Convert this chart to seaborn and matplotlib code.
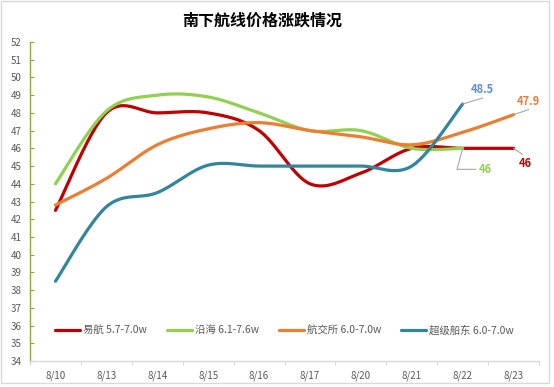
import numpy as np
import pandas as pd
import matplotlib
matplotlib.use("Agg")
import matplotlib.pyplot as plt
from matplotlib.patches import Rectangle
import seaborn as sns

dates = ["8/10", "8/13", "8/14", "8/15", "8/16", "8/17", "8/20", "8/21", "8/22", "8/23"]
yihang = [42.5, 48.0, 48.0, 48.0, 47.0, 44.0, 44.6, 46.0, 46.0, 46.0]
yanhai = [44.0, 48.1, 49.0, 48.9, 48.0, 47.0, 47.0, 46.0, 46.0]
hangjiaosuo = [42.8, 44.3, 46.2, 47.1, 47.45, 47.0, 46.65, 46.2, 46.9, 47.9]
chaoji = [38.5, 42.7, 43.5, 45.05, 45.0, 45.0, 45.0, 45.0, 48.5]

names = ["易航 5.7-7.0w", "沿海 6.1-7.6w", "航交所 6.0-7.0w", "超级船东 6.0-7.0w"]
colors = ["#C00000", "#92D050", "#ED7D31", "#31859C"]


def smooth(vals, n=30):
    # excel-style smoothed line: bezier segments, control points from neighbours
    p = np.array([[i, v] for i, v in enumerate(vals)], dtype=float)
    ext = np.vstack([p[0], p, p[-1]])
    out = []
    for i in range(len(p) - 1):
        p0, p1, p2, p3 = ext[i], ext[i + 1], ext[i + 2], ext[i + 3]
        c1 = p1 + (p2 - p0) / 6
        c2 = p2 - (p3 - p1) / 6
        t = np.linspace(0, 1, n)[:, None]
        seg = (1 - t) ** 3 * p1 + 3 * (1 - t) ** 2 * t * c1 + 3 * (1 - t) * t ** 2 * c2 + t ** 3 * p2
        out.append(seg if i == 0 else seg[1:])
    out = np.vstack(out)
    return pd.DataFrame({"x": out[:, 0], "y": out[:, 1]})


sns.set_theme(style="white")
plt.rcParams["font.family"] = ["Noto Sans CJK SC", "DejaVu Sans"]

fig = plt.figure(figsize=(5.54, 3.87), dpi=100)
ax = fig.add_axes([30 / 554, 1 - 361 / 387, 509 / 554, 319 / 387])

for vals, name, c in zip([yihang, yanhai, hangjiaosuo, chaoji], names, colors):
    df = smooth(vals)
    sns.lineplot(data=df, x="x", y="y", sort=False, estimator=None, color=c,
                 linewidth=2.3, label=name, ax=ax)

ax.set_xlim(-0.5, 9.5)
ax.set_ylim(34, 52)
ax.set_yticks(range(34, 53))
ax.set_xticks(range(len(dates)))
ax.set_xticklabels(dates)
ax.set_xlabel("")
ax.set_ylabel("")

ax.spines["top"].set_visible(False)
ax.spines["right"].set_visible(False)
ax.spines["left"].set_color("#8AAA3E")
ax.spines["left"].set_linewidth(1.0)
ax.spines["bottom"].set_color("#D9D9D9")
ax.spines["bottom"].set_linewidth(1.0)

ax.tick_params(axis="y", direction="in", length=3, width=0.8, color="#8AAA3E",
               labelsize=7, labelcolor="#595959", pad=6, left=True)
ax.tick_params(axis="x", length=0, labelsize=7, labelcolor="#595959", pad=7)
# x ticks sit between categories
ax.set_xticks(np.arange(-0.5, 10, 1), minor=True)
ax.tick_params(axis="x", which="minor", direction="out", length=3, width=0.8,
               color="#D9D9D9", bottom=True)

leg = ax.legend(loc="center", bbox_to_anchor=(0.5, 0.097), ncol=4, frameon=False,
                fontsize=7.5, handlelength=2.4, columnspacing=1.9, handletextpad=0.3)
for t in leg.get_texts():
    t.set_color("#595959")

# data labels with leader lines
lc = "#A6A6A6"
ax.annotate("", xy=(8, 48.5), xytext=(20, 6), textcoords="offset pixels",
            arrowprops=dict(arrowstyle="-", color=lc, lw=0.8, shrinkA=0, shrinkB=0))
ax.annotate("48.5", xy=(8, 48.5), xytext=(20, 8), textcoords="offset pixels",
            ha="center", va="bottom", fontsize=8, fontweight="bold", color="#5B8FDB")

ax.annotate("", xy=(9, 47.9), xytext=(15, 5), textcoords="offset pixels",
            arrowprops=dict(arrowstyle="-", color=lc, lw=0.8, shrinkA=0, shrinkB=0))
ax.annotate("47.9", xy=(9, 47.9), xytext=(15, 7), textcoords="offset pixels",
            ha="center", va="bottom", fontsize=8, fontweight="bold", color="#ED7D31")

ax.annotate("", xy=(8, 46), xytext=(13, -21), textcoords="offset pixels",
            arrowprops=dict(arrowstyle="-", color=lc, lw=0.8, shrinkA=0, shrinkB=0,
                            connectionstyle="angle,angleA=0,angleB=75,rad=0"))
ax.annotate("46", xy=(8, 46), xytext=(16, -21), textcoords="offset pixels",
            ha="left", va="center", fontsize=8, fontweight="bold", color="#92D050")

ax.annotate("", xy=(9, 46), xytext=(9, -6), textcoords="offset pixels",
            arrowprops=dict(arrowstyle="-", color=lc, lw=0.8, shrinkA=0, shrinkB=0))
ax.annotate("46", xy=(9, 46), xytext=(12, -9), textcoords="offset pixels",
            ha="center", va="top", fontsize=8, fontweight="bold", color="#C00000")

fig.text(262 / 554, 1 - 21 / 387, "南下航线价格涨跌情况", ha="center", va="center",
         fontsize=11.5, fontweight="bold", color="#000000")

fig.patches.append(Rectangle((1 / 554, 4 / 387), 548 / 554, 382 / 387,
                             transform=fig.transFigure, fill=False,
                             edgecolor="#D9D9D9", linewidth=1.0))

fig.savefig("out.png", dpi=100)
